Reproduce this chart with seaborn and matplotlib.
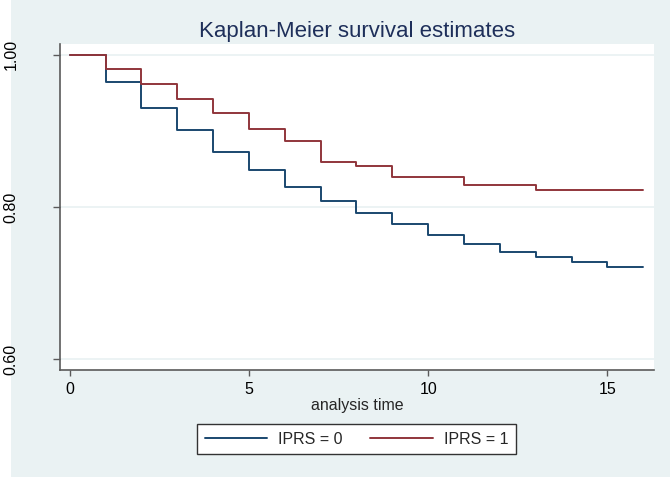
import matplotlib
matplotlib.use("Agg")
import matplotlib.pyplot as plt
from matplotlib.patches import Rectangle
import pandas as pd
import seaborn as sns

# Kaplan-Meier step estimates by group
time_ipr0 = [0, 1, 2, 3, 4, 5, 6, 7, 8, 9, 10, 11, 12, 13, 14, 15, 16]
surv_ipr0 = [1.0, 0.964, 0.9295, 0.9005, 0.8724, 0.8483, 0.8263, 0.8084,
             0.7917, 0.7772, 0.7637, 0.7509, 0.7408, 0.7338, 0.7276, 0.721, 0.721]
time_ipr1 = [0, 1, 2, 3, 4, 5, 6, 7, 8, 9, 11, 13, 16]
surv_ipr1 = [1.0, 0.9812, 0.9618, 0.9421, 0.9233, 0.9018, 0.8864, 0.8597,
             0.8532, 0.840, 0.8295, 0.822, 0.822]
group_labels = ["IPRS = 0", "IPRS = 1"]

x_ticks = [0, 5, 10, 15]
y_ticks = [0.60, 0.80, 1.00]
y_tick_labels = ["0.60", "0.80", "1.00"]

df = pd.concat([
    pd.DataFrame({"time": time_ipr0, "survival": surv_ipr0, "group": group_labels[0]}),
    pd.DataFrame({"time": time_ipr1, "survival": surv_ipr1, "group": group_labels[1]}),
], ignore_index=True)

sns.set_style("white")
plt.rcParams["font.family"] = ["Liberation Sans", "DejaVu Sans"]

W, H = 670, 480
fig = plt.figure(figsize=(W / 100, H / 100), dpi=100, facecolor="white")

# light graph-region background behind the axes
fig.patches.append(Rectangle((11 / W, 3 / H), 1 - 11 / W, 1 - 3 / H,
                             transform=fig.transFigure, facecolor="#EAF2F3",
                             edgecolor="none", zorder=-10))

ax = fig.add_axes([60 / W, (H - 370) / H, (654 - 60) / W, (370 - 43.5) / H])
ax.set_zorder(1)
ax.set_facecolor("white")

palette = {group_labels[0]: "#1a476f", group_labels[1]: "#90353b"}
sns.lineplot(data=df, x="time", y="survival", hue="group", palette=palette,
             drawstyle="steps-post", estimator=None, linewidth=1.4, ax=ax)

ax.set_xlim(-0.27, 16.30)
ax.set_ylim(0.586, 1.0147)

ax.set_xticks(x_ticks)
ax.set_xticklabels([str(t) for t in x_ticks])
ax.set_yticks(y_ticks)
ax.set_yticklabels(y_tick_labels, rotation=90, va="center")

for yv in y_ticks:
    ax.axhline(yv, color="#EAF2F3", linewidth=1.3, zorder=0.5)

for side in ("top", "right"):
    ax.spines[side].set_visible(False)
for side in ("left", "bottom"):
    ax.spines[side].set_color("#5a5a5a")
    ax.spines[side].set_linewidth(1.2)

ax.tick_params(axis="y", direction="out", length=5, width=1.0, color="#5a5a5a",
               pad=25, labelsize=11.5, labelcolor="black", left=True)
ax.tick_params(axis="x", direction="out", length=4.3, width=1.0, color="#5a5a5a",
               pad=4, labelsize=11.5, labelcolor="black", bottom=True)

ax.set_xlabel("analysis time", fontsize=11.5, labelpad=1)
ax.set_ylabel("")
ax.set_title("Kaplan-Meier survival estimates", fontsize=16, color="#1e2f5a", pad=4.5)

handles, labels = ax.get_legend_handles_labels()
leg = ax.legend(handles, labels, loc="center", ncol=2,
                bbox_to_anchor=(356.5 / W, 1 - 439 / H), bbox_transform=fig.transFigure,
                fontsize=11.5, frameon=True, fancybox=False, handlelength=3.9,
                handletextpad=0.7, columnspacing=1.75, borderpad=0.45,
                borderaxespad=0)
frame = leg.get_frame()
frame.set_edgecolor("#333333")
frame.set_linewidth(1.0)
frame.set_facecolor("white")
frame.set_alpha(1)
for line in leg.get_lines():
    line.set_linewidth(1.4)

fig.savefig("out.png", dpi=100, facecolor=fig.get_facecolor())
